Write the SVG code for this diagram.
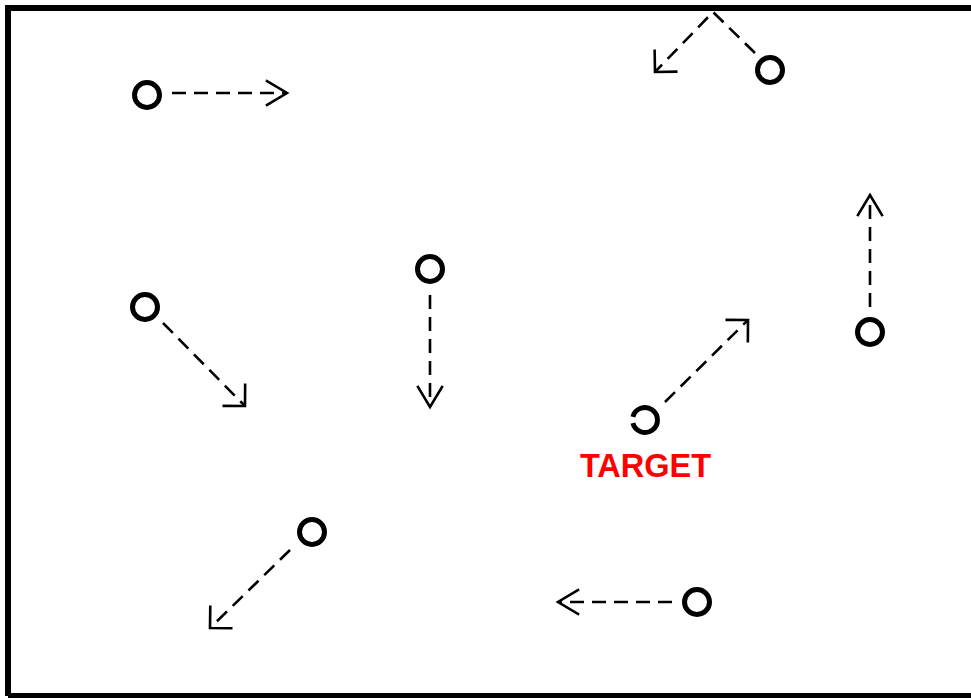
<svg xmlns="http://www.w3.org/2000/svg" width="971" height="698" viewBox="0 0 971 698">
  <style>
    .node { fill: none; stroke: #000; stroke-width: 5; }
    .move { fill: none; stroke: #000; stroke-width: 2.6; stroke-dasharray: 14 8; }
    .head { fill: none; stroke: #000; stroke-width: 2.6; stroke-dasharray: none; stroke-linecap: square; }
    .label { font-family: "Liberation Sans", Arial, sans-serif; font-weight: bold; font-size: 32.5px; fill: #ff0000; }
  </style>
  <defs>
    <!-- open chevron for horizontal / vertical moves -->
    <marker id="chev" markerUnits="userSpaceOnUse" markerWidth="30" markerHeight="30" viewBox="-25 -15 30 30" refX="0" refY="0" orient="auto" overflow="visible">
      <path class="head" d="M-20,-12 L0,0 L-20,12"/>
    </marker>
    <!-- wider chevron for diagonal moves -->
    <marker id="chevDiag" markerUnits="userSpaceOnUse" markerWidth="30" markerHeight="30" viewBox="-25 -15 30 30" refX="0" refY="0" orient="auto" overflow="visible">
      <path class="head" d="M-15,-15 L0,0 L-15,15"/>
    </marker>
  </defs>

  <rect width="971" height="698" fill="#fff"/>
  <!-- field boundary -->
  <path d="M8,696 L8,8 L980,8 M8,696 L980,696" fill="none" stroke="#000" stroke-width="6"/>

  <g id="connectors">
    <line class="move" x1="172" y1="93" x2="287" y2="93" marker-end="url(#chev)"/>
    <path class="move" d="M755,53 L713,12 L655,72" marker-end="url(#chevDiag)"/>
    <line class="move" x1="163" y1="323" x2="245" y2="406" marker-end="url(#chevDiag)"/>
    <line class="move" x1="430" y1="295" x2="430" y2="407" marker-end="url(#chev)"/>
    <line class="move" x1="870" y1="307" x2="870" y2="195" marker-end="url(#chev)"/>
    <line class="move" x1="665" y1="402" x2="748" y2="320" marker-end="url(#chevDiag)"/>
    <line class="move" x1="290" y1="550" x2="210" y2="628" marker-end="url(#chevDiag)"/>
    <line class="move" x1="672" y1="602" x2="558" y2="602" marker-end="url(#chev)"/>
  </g>

  <g id="p1"><circle class="node" cx="147" cy="95" r="12.5"/></g>
  <g id="p2"><circle class="node" cx="770" cy="70" r="12.5"/></g>
  <g id="p3"><circle class="node" cx="145" cy="307" r="12.5"/></g>
  <g id="p4"><circle class="node" cx="430" cy="269" r="12.5"/></g>
  <g id="p5"><circle class="node" cx="870" cy="332" r="12.5"/></g>
  <g id="target">
    <path class="node" d="M632.9,416.8 A12.5,12.5 0 1 1 632.9,423.2"/>
    <text class="label" x="645.5" y="477" text-anchor="middle">TARGET</text>
  </g>
  <g id="p7"><circle class="node" cx="312" cy="532" r="12.5"/></g>
  <g id="p8"><circle class="node" cx="697" cy="602" r="12.5"/></g>
</svg>
